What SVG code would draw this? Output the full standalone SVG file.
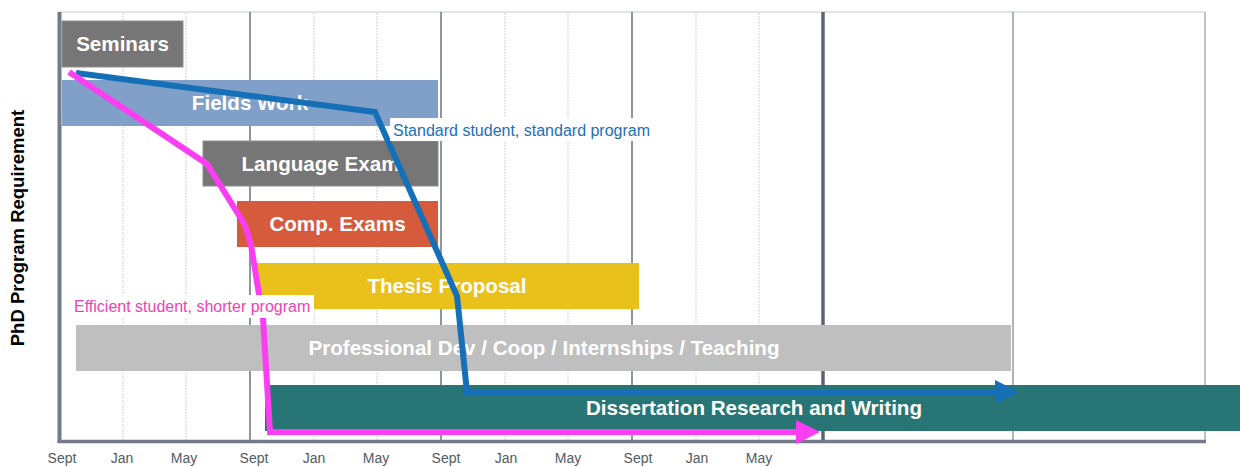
<svg xmlns="http://www.w3.org/2000/svg" width="1240" height="467" viewBox="0 0 1240 467">
  <style>
    .bar-label { font-family: "Liberation Sans", Arial, sans-serif; font-size: 20.6px; font-weight: bold; fill: #ffffff; text-anchor: middle; }
    .tick { font-family: "Liberation Sans", Arial, sans-serif; font-size: 14px; fill: #555a60; text-anchor: middle; }
    .axis-title { font-family: "Liberation Sans", Arial, sans-serif; font-size: 18.5px; font-weight: bold; fill: #000000; text-anchor: middle; }
    .note { font-family: "Liberation Sans", Arial, sans-serif; font-size: 16px; }
    .minor { stroke: #c2c2c2; stroke-width: 1; stroke-dasharray: 1.5 1.5; }
    .major { stroke: #6b7380; stroke-width: 1.5; }
    .path-line { fill: none; stroke-width: 6; stroke-linejoin: miter; }
  </style>
  <defs>
    <marker id="arrow-blue" markerUnits="userSpaceOnUse" markerWidth="24" markerHeight="24" refX="1" refY="12" orient="auto">
      <path d="M0,0 L24,12 L0,24 Z" fill="#1570b8"/>
    </marker>
    <marker id="arrow-magenta" markerUnits="userSpaceOnUse" markerWidth="24" markerHeight="24" refX="1" refY="12" orient="auto">
      <path d="M0,0 L24,12 L0,24 Z" fill="#fb3ef2"/>
    </marker>
  </defs>

  <rect width="1240" height="467" fill="#ffffff"/>

  <!-- timeline grid -->
  <g id="grid">
    <line x1="59" y1="12" x2="1205" y2="12" stroke="#c3c8cf" stroke-width="1"/>
    <line x1="1205" y1="12" x2="1205" y2="442" stroke="#a8aeb8" stroke-width="1.5"/>
    <line class="minor" x1="123" y1="13" x2="123" y2="440"/>
    <line class="minor" x1="186" y1="13" x2="186" y2="440"/>
    <line class="minor" x1="314" y1="13" x2="314" y2="440"/>
    <line class="minor" x1="377" y1="13" x2="377" y2="440"/>
    <line class="minor" x1="505" y1="13" x2="505" y2="440"/>
    <line class="minor" x1="568" y1="13" x2="568" y2="440"/>
    <line class="minor" x1="696" y1="13" x2="696" y2="440"/>
    <line class="minor" x1="759" y1="13" x2="759" y2="440"/>
    <line class="major" x1="250" y1="12" x2="250" y2="440"/>
    <line class="major" x1="441" y1="12" x2="441" y2="440"/>
    <line class="major" x1="632" y1="12" x2="632" y2="440"/>
    <line x1="823" y1="12" x2="823" y2="440" stroke="#5c6472" stroke-width="3.5"/>
    <line x1="1013" y1="12" x2="1013" y2="440" stroke="#7b8390" stroke-width="1.2"/>
    <line x1="59.5" y1="12" x2="59.5" y2="443" stroke="#737b88" stroke-width="4"/>
    <line x1="57.5" y1="441.5" x2="1206" y2="441.5" stroke="#737b88" stroke-width="3.5"/>
  </g>

  <g id="axis-labels">
    <text class="tick" x="62" y="463">Sept</text>
    <text class="tick" x="122" y="463">Jan</text>
    <text class="tick" x="184" y="463">May</text>
    <text class="tick" x="254" y="463">Sept</text>
    <text class="tick" x="314" y="463">Jan</text>
    <text class="tick" x="376" y="463">May</text>
    <text class="tick" x="446" y="463">Sept</text>
    <text class="tick" x="506" y="463">Jan</text>
    <text class="tick" x="568" y="463">May</text>
    <text class="tick" x="638" y="463">Sept</text>
    <text class="tick" x="697" y="463">Jan</text>
    <text class="tick" x="759" y="463">May</text>
    <text class="axis-title" transform="translate(24,228) rotate(-90)">PhD Program Requirement</text>
  </g>

  <!-- requirement bars -->
  <g id="seminars">
    <rect x="62" y="21" width="121" height="46" fill="#767676" stroke="#8e8e8e" stroke-width="1"/>
    <text class="bar-label" x="122.5" y="51">Seminars</text>
  </g>
  <g id="fields-work">
    <rect x="62" y="80" width="376" height="46" fill="#809fc9"/>
    <text class="bar-label" x="250" y="110">Fields Work</text>
  </g>
  <g id="language-exam">
    <rect x="203" y="141" width="235" height="45" fill="#767676" stroke="#8e8e8e" stroke-width="1"/>
    <text class="bar-label" x="320.5" y="171">Language Exam</text>
  </g>
  <g id="comp-exams">
    <rect x="237" y="201" width="201" height="46" fill="#d65a3c"/>
    <text class="bar-label" x="337.5" y="231">Comp. Exams</text>
  </g>
  <g id="thesis-proposal">
    <rect x="256" y="263" width="383" height="46" fill="#e9c11a"/>
    <text class="bar-label" x="447" y="293">Thesis Proposal</text>
  </g>
  <g id="professional-dev">
    <rect x="76" y="325" width="935" height="46" fill="#bfbfbf"/>
    <text class="bar-label" x="544" y="355">Professional Dev / Coop / Internships / Teaching</text>
  </g>
  <g id="dissertation">
    <rect x="265" y="385" width="980" height="46" fill="#277675"/>
    <text class="bar-label" x="754" y="415">Dissertation Research and Writing</text>
  </g>

  <!-- student progress paths -->
  <g id="connectors">
    <path id="standard-path" class="path-line" stroke="#1570b8" marker-end="url(#arrow-blue)"
          d="M76,73 L375,112 L457,296 L467,392 L996,392"/>
    <path id="efficient-path" class="path-line" stroke="#fb3ef2" marker-end="url(#arrow-magenta)"
          d="M69,72 L207,164 L245,225 L251,245 L257,282 L263,318 L270,432 L797,432"/>
  </g>

  <!-- path annotations -->
  <g id="standard-label">
    <rect x="390" y="118" width="265" height="23" fill="#ffffff"/>
    <text class="note" x="393" y="136" fill="#1a70b5">Standard student, standard program</text>
  </g>
  <g id="efficient-label">
    <rect x="70" y="295" width="244" height="23" fill="#ffffff"/>
    <text class="note" x="74" y="312" fill="#f03fb8">Efficient student, shorter program</text>
  </g>
</svg>
